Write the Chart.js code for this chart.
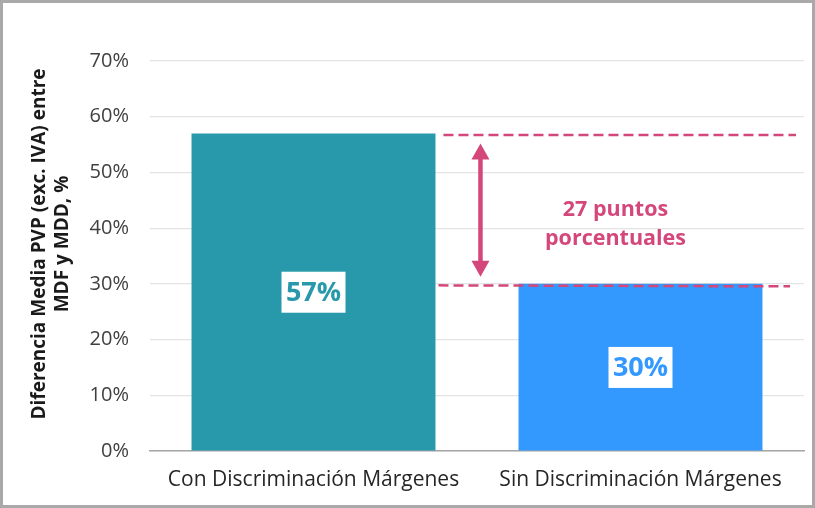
<!DOCTYPE html>
<html>
<head>
<meta charset="utf-8">
<script src="https://cdn.jsdelivr.net/npm/chart.js@4.4.1/dist/chart.umd.min.js"></script>
<style>
  html, body { margin: 0; padding: 0; background: #fff; }
  #marco {
    position: absolute; left: 0; top: 0;
    width: 815px; height: 508px;
    box-sizing: border-box;
    border: 3px solid #a9a9a9;
    background: #fff;
  }
  #grafica { display: block; }
</style>
</head>
<body>
<div id="marco"><canvas id="grafica" width="809" height="502"></canvas></div>
<script>
// datos
const categorias = ['Con Discriminación Márgenes', 'Sin Discriminación Márgenes'];
const valores = [57, 30];
const coloresBarras = ['#2899AB', '#3399FF'];
const etiquetasValor = ['57%', '30%'];
const tituloEjeY = ['Diferencia Media PVP (exc. IVA) entre', 'MDF y MDD, %'];
const textoDiferencia = ['27 puntos', 'porcentuales'];

const ROSA = '#D4477B';
const FUENTE = "'Open Sans', 'Noto Sans', sans-serif";

// 🔹 título del eje Y (dos líneas, algo por encima del centro)
const pluginTituloY = {
  id: 'tituloY',
  afterDraw(chart) {
    const ctx = chart.ctx;
    const area = chart.chartArea;
    const cy = (area.top + area.bottom) / 2 - 12;
    ctx.save();
    ctx.font = 'bold 19px ' + FUENTE;
    ctx.fillStyle = '#1a1a1a';
    ctx.textAlign = 'center';
    ctx.textBaseline = 'middle';
    ctx.translate(37, cy);
    ctx.rotate(-Math.PI / 2);
    ctx.fillText(tituloEjeY[0], 0, 0);
    ctx.fillText(tituloEjeY[1], 0, 23);
    ctx.restore();
  }
};

// 🔹 etiquetas dentro de las barras
const pluginEtiquetas = {
  id: 'etiquetas',
  afterDatasetsDraw(chart) {
    const ctx = chart.ctx;
    const meta = chart.getDatasetMeta(0);
    const y = chart.scales.y;
    ctx.save();
    ctx.font = 'bold 27px ' + FUENTE;
    ctx.textAlign = 'center';
    ctx.textBaseline = 'middle';
    meta.data.forEach((barra, i) => {
      const cy = y.getPixelForValue(valores[i] / 2);
      const w = 64, h = 41;
      ctx.fillStyle = '#fff';
      ctx.fillRect(barra.x - w / 2, cy - h / 2, w, h);
      ctx.fillStyle = coloresBarras[i];
      ctx.fillText(etiquetasValor[i], barra.x, cy + 1);
    });
    ctx.restore();
  }
};

// 🔹 líneas discontinuas, flecha y texto
const pluginDiferencia = {
  id: 'diferencia',
  afterDatasetsDraw(chart) {
    const ctx = chart.ctx;
    const area = chart.chartArea;
    const y = chart.scales.y;
    const meta = chart.getDatasetMeta(0);
    const b0 = meta.data[0];
    const derecha0 = b0.x + b0.width / 2;

    const yAlto = y.getPixelForValue(valores[0]);
    const yBajo = y.getPixelForValue(valores[1]);

    ctx.save();
    ctx.strokeStyle = ROSA;
    ctx.lineWidth = 2.5;
    ctx.setLineDash([10, 5]);
    ctx.beginPath();
    ctx.moveTo(derecha0 + 8, yAlto + 1.5);
    ctx.lineTo(area.right - 8, yAlto + 1.5);
    ctx.moveTo(derecha0 + 3, yBajo + 1.5);
    ctx.lineTo(area.right - 14, yBajo + 2.5);
    ctx.stroke();
    ctx.setLineDash([]);

    // flecha doble
    const ax = derecha0 + 45;
    const top = yAlto + 10;
    const bot = yBajo - 7;
    const cabeza = 16, ancho = 9;
    ctx.lineWidth = 4.5;
    ctx.beginPath();
    ctx.moveTo(ax, top + cabeza - 2);
    ctx.lineTo(ax, bot - cabeza + 2);
    ctx.stroke();
    ctx.fillStyle = ROSA;
    ctx.beginPath();
    ctx.moveTo(ax, top);
    ctx.lineTo(ax + ancho, top + cabeza);
    ctx.lineTo(ax - ancho, top + cabeza);
    ctx.closePath();
    ctx.fill();
    ctx.beginPath();
    ctx.moveTo(ax, bot);
    ctx.lineTo(ax + ancho, bot - cabeza);
    ctx.lineTo(ax - ancho, bot - cabeza);
    ctx.closePath();
    ctx.fill();

    // texto
    const tx = ax + 135;
    const ty = y.getPixelForValue((valores[0] + valores[1]) / 2);
    ctx.font = 'bold 21.5px ' + FUENTE;
    ctx.textAlign = 'center';
    ctx.textBaseline = 'middle';
    ctx.fillText(textoDiferencia[0], tx, ty + 1);
    ctx.fillText(textoDiferencia[1], tx, ty + 30);
    ctx.restore();
  }
};

const ctx = document.getElementById('grafica').getContext('2d');

const grafica = new Chart(ctx, {
  type: 'bar',
  data: {
    labels: categorias,
    datasets: [{
      data: valores,
      backgroundColor: coloresBarras,
      borderWidth: 0,
      categoryPercentage: 1,
      barPercentage: 0.746
    }]
  },
  options: {
    responsive: false,
    animation: false,
    layout: { padding: { left: 20, right: 8, top: 58, bottom: 0 } },
    plugins: {
      legend: { display: false },
      tooltip: { enabled: false }
    },
    scales: {
      y: {
        min: 0,
        max: 70,
        afterFit(scale) { scale.width = 127; },
        ticks: {
          stepSize: 10,
          padding: 21,
          color: '#404040',
          font: { family: FUENTE, size: 20 },
          callback: v => v + '%'
        },
        grid: { color: '#e4e4e4', lineWidth: 1.2, drawTicks: false },
        border: { display: false }
      },
      x: {
        afterFit(scale) { scale.height = 54; },
        ticks: {
          padding: 16,
          color: '#262626',
          font: { family: FUENTE, size: 21 }
        },
        grid: { display: false, drawTicks: false },
        border: { display: true, color: '#a6a6a6', width: 1.5 }
      }
    }
  },
  plugins: [pluginTituloY, pluginEtiquetas, pluginDiferencia]
});
</script>
</body>
</html>
